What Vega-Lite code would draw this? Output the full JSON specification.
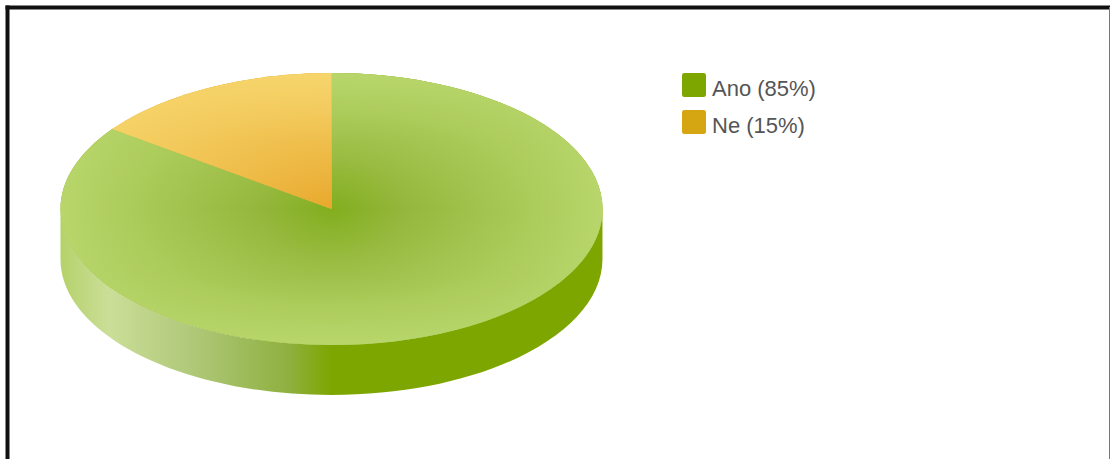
{
  "$schema": "https://vega.github.io/schema/vega-lite/v6.json",
  "width": 1102.5,
  "height": 452,
  "autosize": {"type": "none"},
  "padding": {"left": 7, "top": 7, "right": 0, "bottom": 0},
  "background": "#ffffff",
  "config": {"view": {"stroke": null}},
  "data": {
    "values": [
      {"odpoved": "Ano (85%)", "podil": 85},
      {"odpoved": "Ne (15%)", "podil": 15}
    ]
  },
  "encoding": {
    "x": {
      "datum": 0.2943,
      "type": "quantitative",
      "scale": {"domain": [0, 1]},
      "axis": {"orient": "top", "title": null, "labels": false, "ticks": false, "grid": false, "domainWidth": 4, "domainColor": "#111111", "domainCap": "square"}
    },
    "y": {
      "datum": 0.4469,
      "type": "quantitative",
      "scale": {"domain": [0, 1], "reverse": true},
      "axis": {"orient": "left", "title": null, "labels": false, "ticks": false, "grid": false, "domainWidth": 4, "domainColor": "#111111", "domainCap": "square"}
    }
  },
  "layer": [
    {
      "transform": [{"filter": "datum.podil == 85"}],
      "mark": {
        "type": "point", "filled": true, "opacity": 1, "size": 4,
        "fill": {
          "gradient": "linear", "x1": 0, "y1": 0, "x2": 1, "y2": 0,
          "stops": [
            {"offset": 0, "color": "#b4d26a"},
            {"offset": 0.09, "color": "#cbde98"},
            {"offset": 0.25, "color": "#aec777"},
            {"offset": 0.42, "color": "#8fb040"},
            {"offset": 0.5, "color": "#7ea600"},
            {"offset": 1, "color": "#7ea600"}
          ]
        }
      },
      "encoding": {
        "shape": {"value": "M-271,0 A271,136 0 0 0 271,0 L271,50 A271,136 0 0 1 -271,50 Z"}
      }
    },
    {
      "mark": {"type": "point", "filled": true, "opacity": 1, "size": 4},
      "encoding": {
        "fill": {
          "field": "odpoved",
          "type": "nominal",
          "scale": {"domain": ["Ano (85%)", "Ne (15%)"], "range": ["#7ea600", "#d6a512"]},
          "legend": {
            "orient": "none", "legendX": 675, "legendY": 70, "title": null,
            "symbolType": "M-1,-1.13 Q-1,-1.33 -0.8,-1.33 L0.8,-1.33 Q1,-1.33 1,-1.13 L1,0.47 Q1,0.67 0.8,0.67 L-0.8,0.67 Q-1,0.67 -1,0.47 Z",
            "symbolSize": 576, "symbolStrokeWidth": 0, "rowPadding": 10, "labelOffset": 6,
            "labelFont": "Liberation Sans", "labelFontSize": 22, "labelColor": "#555555", "labelLimit": 200
          }
        },
        "shape": {
          "field": "podil",
          "type": "nominal",
          "scale": {
            "domain": [85, 15],
            "range": ["M0,0 L0,-136 A271,136 0 1 1 -219.2,-79.9 Z", "M0,0 L-219.2,-79.9 A271,136 0 0 1 0,-136 Z"]
          },
          "legend": null
        }
      }
    },
    {
      "transform": [{"filter": "datum.podil == 85"}],
      "mark": {
        "type": "point", "filled": true, "opacity": 1, "size": 4,
        "fill": {
          "gradient": "radial", "x1": 0.5, "y1": 0.5, "r1": 0, "x2": 0.5, "y2": 0.5, "r2": 0.5,
          "stops": [
            {"offset": 0, "color": "#82ae1e"},
            {"offset": 0.25, "color": "#93b63a"},
            {"offset": 1, "color": "#b8d66b"}
          ]
        }
      },
      "encoding": {"shape": {"value": "M0,0 L0,-136 A271,136 0 1 1 -219.2,-79.9 Z"}}
    },
    {
      "transform": [{"filter": "datum.podil == 85"}],
      "mark": {
        "type": "point", "filled": true, "opacity": 1, "size": 4,
        "fill": {
          "gradient": "linear", "x1": 0, "y1": 0, "x2": 0, "y2": 1,
          "stops": [
            {"offset": 0, "color": "rgba(184,214,107,1)"},
            {"offset": 0.25, "color": "rgba(184,214,107,0.33)"},
            {"offset": 0.375, "color": "rgba(184,214,107,0.14)"},
            {"offset": 0.5, "color": "rgba(184,214,107,0)"},
            {"offset": 0.625, "color": "rgba(184,214,107,0.14)"},
            {"offset": 0.75, "color": "rgba(184,214,107,0.33)"},
            {"offset": 1, "color": "rgba(184,214,107,1)"}
          ]
        }
      },
      "encoding": {"shape": {"value": "M0,0 L0,-136 A271,136 0 1 1 -219.2,-79.9 Z"}}
    },
    {
      "transform": [{"filter": "datum.podil == 15"}],
      "mark": {
        "type": "point", "filled": true, "opacity": 1, "size": 4,
        "fill": {
          "gradient": "radial", "x1": 1, "y1": 0.81, "r1": 0, "x2": 1, "y2": 0.81, "r2": 1.24,
          "stops": [
            {"offset": 0, "color": "#e8a82c"},
            {"offset": 1, "color": "#f6d56c"}
          ]
        }
      },
      "encoding": {"shape": {"value": "M0,0 L-219.2,-79.9 A271,136 0 0 1 0,-136 Z"}}
    },
    {
      "transform": [{"filter": "datum.podil == 15"}],
      "mark": {
        "type": "point", "filled": true, "opacity": 1, "size": 4,
        "fill": {
          "gradient": "linear", "x1": 0, "y1": 0, "x2": 0, "y2": 1,
          "stops": [
            {"offset": 0, "color": "rgba(246,213,108,1)"},
            {"offset": 0.5, "color": "rgba(246,213,108,0.33)"},
            {"offset": 1, "color": "rgba(246,213,108,0)"}
          ]
        }
      },
      "encoding": {"shape": {"value": "M0,0 L-219.2,-79.9 A271,136 0 0 1 0,-136 Z"}}
    },
    {
      "mark": {"type": "rule", "color": "#777777", "strokeWidth": 1},
      "encoding": {
        "x": {"datum": 1, "type": "quantitative"},
        "y": {"datum": 0, "type": "quantitative"},
        "y2": {"datum": 1}
      }
    }
  ]
}
